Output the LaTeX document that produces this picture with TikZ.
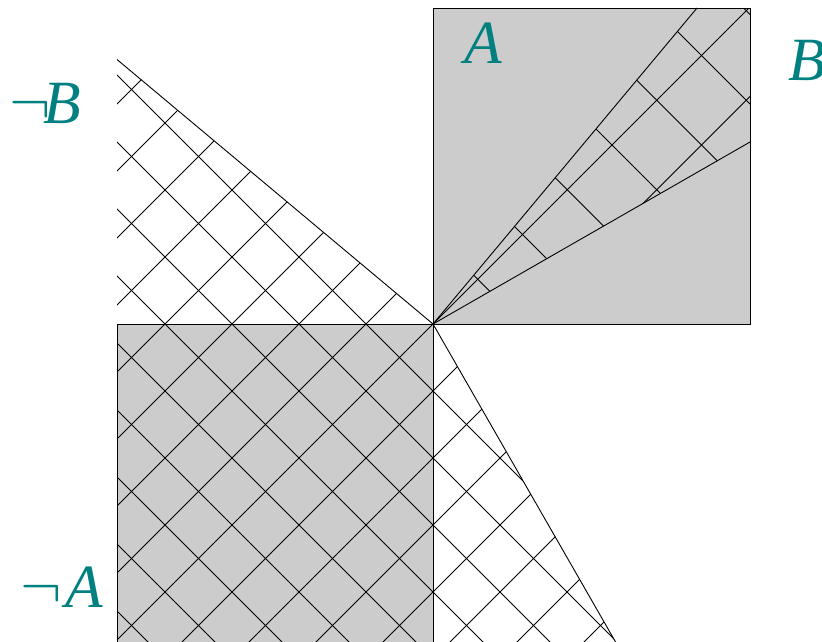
\documentclass[tikz,border=0pt]{standalone}
\usepackage{fontspec}
\newfontfamily\labfont{Liberation Serif}
\usetikzlibrary{calc}
\definecolor{lbl}{RGB}{0,128,128}
\definecolor{fillgray}{RGB}{204,204,204}
\tikzset{
  sq/.style={fill=fillgray,draw=black,line width=0.9pt},
  hatch/.style={draw=black,line width=0.9pt},
  edge/.style={draw=black,line width=0.9pt},
  lab/.style={text=lbl,inner sep=0pt,anchor=base west,font=\fontsize{20.5}{20.5}\selectfont,scale=3}
}
\newcommand{\lett}[1]{{\labfont\itshape #1}}
\begin{document}
\begin{tikzpicture}[x=1pt,y=-1pt]
\useasboundingbox (0,0) rectangle (822,641);
\coordinate (O) at (433,324);
% squares
\path[sq] (433,8) rectangle (750,324);
\fill[fillgray] (117,324) rectangle (433,660);
\draw[edge] (117,660) -- (117,324) -- (433,324) -- (433,660);
% B wedge corners
\coordinate (Bu) at (697,8);
\coordinate (Bc) at (750,8);
\coordinate (Bl) at (750,142);
% not-B wedge corners
\coordinate (Nu) at (117,59.5);
\coordinate (Nc1) at (117,660);
\coordinate (Nc2) at (625,660);
\coordinate (Nl) at (615,641);
% B hatch
\begin{scope}
\clip (O) -- (Bu) -- (Bc) -- (Bl) -- cycle;
\foreach \k in {-10,...,10}{
  \draw[hatch] (0,{-109-89.5*\k}) -- (822,{713-89.5*\k});
  \draw[hatch] (0,{757+89.5*\k}) -- (822,{-65+89.5*\k});
}
\end{scope}
\draw[edge] (O) -- (Bu);
\draw[edge] (O) -- (Bl);
% not-B hatch
\begin{scope}
\clip (O) -- (Nu) -- (Nc1) -- (Nc2) -- ($(O)!1.03!(Nl)$) -- cycle;
\foreach \k in {-15,...,15}{
  \draw[hatch] (0,{-109-67*\k}) -- (822,{713-67*\k});
  \draw[hatch] (0,{757+67*\k}) -- (822,{-65+67*\k});
}
\end{scope}
\draw[edge] (O) -- (Nu);
\draw[edge] (O) -- ($(O)!1.03!(Nl)$);
% labels
\node[lab] (lA) at (464,63) {\lett{A}};
\node[lab] (lB) at (788,80) {\lett{B}};
\node[lab] (lnB) at (9,123) {$\neg$\kern-0.12em\lett{B}};
\node[lab] (lnA) at (20,607) {$\neg$\kern0.05em\lett{A}};
\end{tikzpicture}
\end{document}
